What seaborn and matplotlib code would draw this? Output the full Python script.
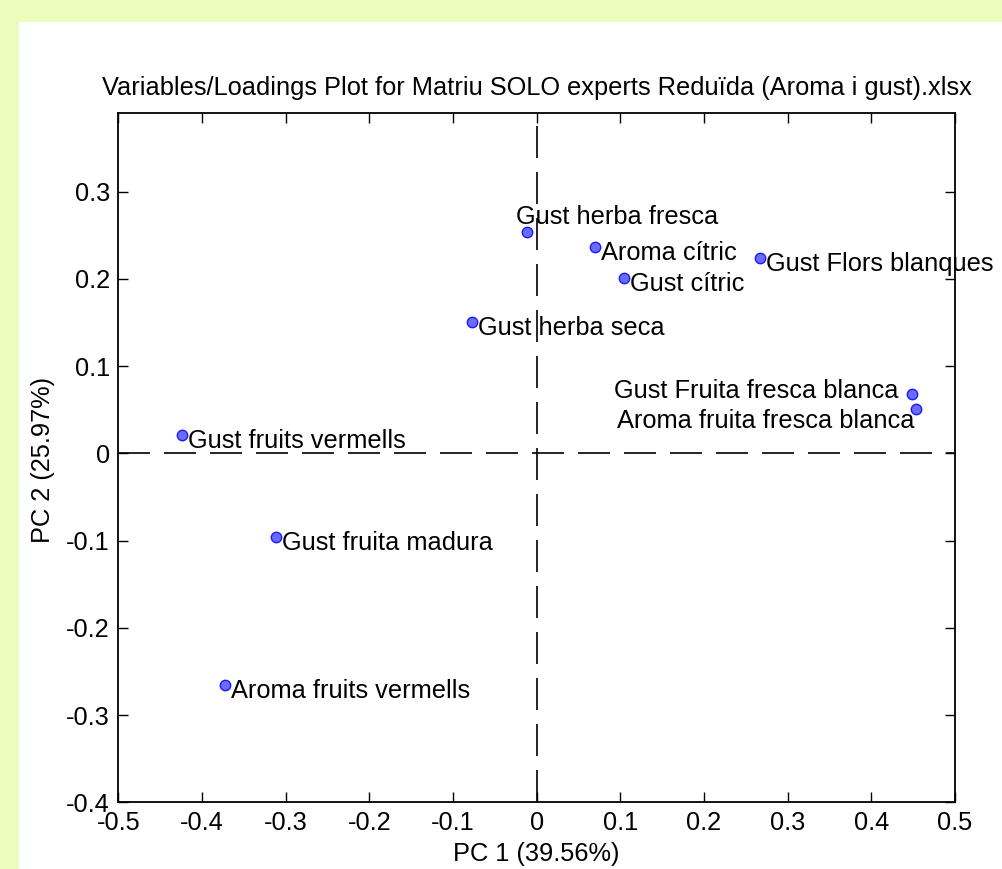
import matplotlib
matplotlib.use("Agg")
import matplotlib.pyplot as plt
from matplotlib.patches import Rectangle
import seaborn as sns
import pandas as pd

# ---- data ----
variables = [
    "Gust herba fresca", "Aroma cítric", "Gust cítric", "Gust Flors blanques",
    "Gust herba seca", "Gust Fruita fresca blanca", "Aroma fruita fresca blanca",
    "Gust fruits vermells", "Gust fruita madura", "Aroma fruits vermells",
]
pc1 = [-0.012, 0.070, 0.104, 0.267, -0.077, 0.449, 0.453, -0.424, -0.312, -0.373]
pc2 = [0.254, 0.236, 0.201, 0.224, 0.151, 0.068, 0.051, 0.021, -0.096, -0.266]

xticks = [-0.5, -0.4, -0.3, -0.2, -0.1, 0.0, 0.1, 0.2, 0.3, 0.4, 0.5]
xticklabels = ["-0.5", "-0.4", "-0.3", "-0.2", "-0.1", "0", "0.1", "0.2", "0.3", "0.4", "0.5"]
yticks = [-0.4, -0.3, -0.2, -0.1, 0.0, 0.1, 0.2, 0.3]
yticklabels = ["-0.4", "-0.3", "-0.2", "-0.1", "0", "0.1", "0.2", "0.3"]

title = "Variables/Loadings Plot for Matriu SOLO experts Reduïda (Aroma i gust).xlsx"
xlabel = "PC 1 (39.56%)"
ylabel = "PC 2 (25.97%)"

# label placement (pixel offsets, alignment) - layout only
default_offset = ("left", 6, -13)
special_offsets = {
    "Gust herba fresca": ("left", -11, 8),
    "Gust Fruita fresca blanca": ("right", -14, -4),
    "Aroma fruita fresca blanca": ("right", -1, -19),
}

df = pd.DataFrame({"variable": variables, "PC1": pc1, "PC2": pc2})

sns.set_style("ticks")
plt.rcParams["font.family"] = ["Liberation Sans", "DejaVu Sans"]
plt.rcParams["text.color"] = "black"
plt.rcParams["axes.labelcolor"] = "black"
FS = 18.3

W, H, DPI = 1002, 869, 100
fig = plt.figure(figsize=(W / DPI, H / DPI), dpi=DPI)
fig.patch.set_facecolor("#ebfcbc")
fig.patches.append(Rectangle((19 / W, 0), 1 - 19 / W, (H - 22) / H,
                             transform=fig.transFigure, facecolor="white",
                             edgecolor="none", zorder=-1))

ax_l, ax_r, ax_t, ax_b = 118.3, 955.0, 113.0, 802.3
ax = fig.add_axes([ax_l / W, 1 - ax_b / H, (ax_r - ax_l) / W, (ax_b - ax_t) / H])
ax.set_facecolor("white")

px = 72 / DPI
lw_dash = 1.2
ax.axhline(0, color="black", lw=lw_dash,
           linestyle=(0, (32 * px / lw_dash, 14 * px / lw_dash)), zorder=1)
ax.axvline(0, color="black", lw=lw_dash,
           linestyle=(0, (32 * px / lw_dash, 14 * px / lw_dash)), zorder=1)

sns.scatterplot(data=df, x="PC1", y="PC2", ax=ax, s=56, color="#6b6bff",
                edgecolor="#1a1aff", linewidth=1.0, zorder=3, legend=False)

for name, xv, yv in zip(variables, pc1, pc2):
    ha, dx, dy = special_offsets.get(name, default_offset)
    ax.annotate(name, (xv, yv), xytext=(dx * px, dy * px), textcoords="offset points",
                ha=ha, va="baseline", fontsize=FS, color="black", zorder=4)

ax.set_xlim(-0.5, 0.5)
ax.set_ylim(-0.4, 0.39)
ax.set_xticks(xticks)
ax.set_xticklabels(xticklabels)
ax.set_yticks(yticks)
ax.set_yticklabels(yticklabels)
ax.tick_params(direction="in", length=7.5, width=1.0, top=True, right=True,
               labelsize=FS, colors="black", labelcolor="black", pad=6)
for sp in ax.spines.values():
    sp.set_visible(True)
    sp.set_color("black")
    sp.set_linewidth(1.3)

ax.set_title(title, fontsize=FS, pad=13, color="black")
ax.set_xlabel(xlabel, fontsize=FS, color="black")
ax.set_ylabel(ylabel, fontsize=FS, color="black")
ax.xaxis.set_label_coords(0.5, -(842 - ax_b) / (ax_b - ax_t))
ax.yaxis.set_label_coords(-(ax_l - 55) / (ax_r - ax_l), 0.497)

fig.savefig("out.png", dpi=DPI, facecolor=fig.get_facecolor())
